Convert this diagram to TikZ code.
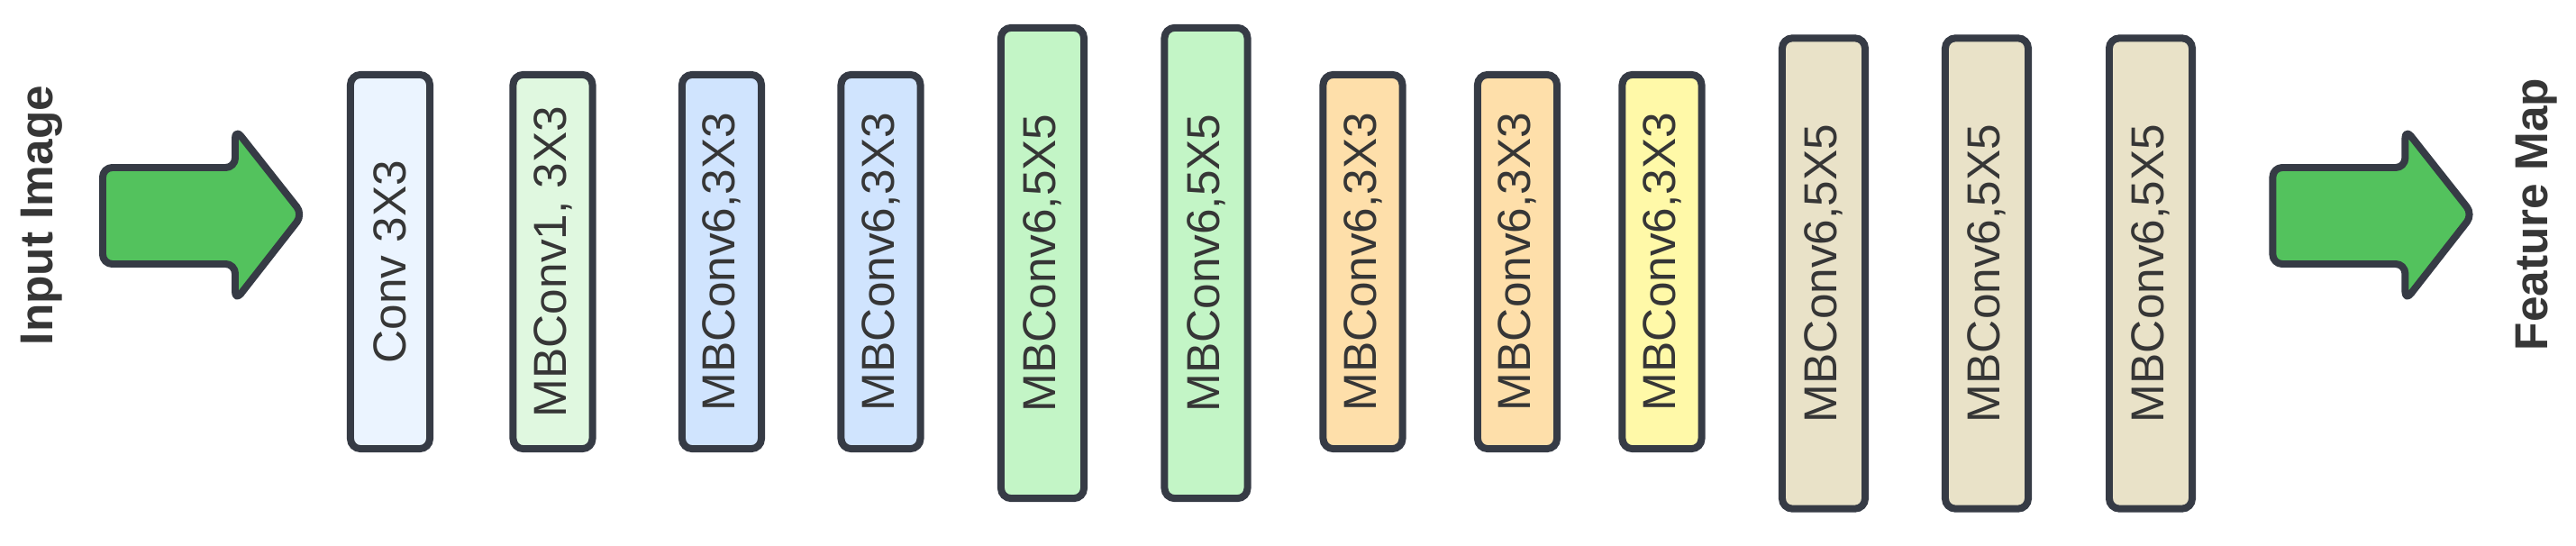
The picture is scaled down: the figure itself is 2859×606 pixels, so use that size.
\documentclass[tikz,border=0pt]{standalone}
\usepackage{fontspec}
\setmainfont{Liberation Sans}
\begin{document}
\begin{tikzpicture}[x=0.01cm,y=-0.01cm,
  line width=2.27pt,
  blk/.style={draw=bordc, rounded corners=3.2pt, inner sep=0pt, text=txtc,
    font=\fontsize{14.6}{17}\selectfont, minimum width=0.88cm},
  shortblk/.style={blk, minimum height=4.15cm},
  tallblk/.style={blk, minimum height=5.22cm, minimum width=0.92cm},
  lbl/.style={text=txtc, font=\fontsize{14.6}{17}\selectfont\bfseries, rotate=90, inner sep=0pt},
  bigarrow/.style={draw=bordc, fill=arrowc, rounded corners=3pt, line join=round}
]
\definecolor{bordc}{HTML}{363B45}
\definecolor{txtc}{HTML}{363636}
\definecolor{arrowc}{HTML}{53C25D}
\definecolor{cconv}{HTML}{EBF4FF}
\definecolor{cmb1}{HTML}{E0F8E0}
\definecolor{cblue}{HTML}{D0E4FE}
\definecolor{cgreen}{HTML}{C3F5C6}
\definecolor{corange}{HTML}{FEDFAA}
\definecolor{cyellow}{HTML}{FFF9A8}
\definecolor{ctan}{HTML}{E9E2C8}
\useasboundingbox (0,0) rectangle (2859,606);

\node[lbl] (inlbl) at (46,239) {Input Image};
\node[lbl] (outlbl) at (2815,238) {Feature Map};

\draw[bigarrow] (114,186) -- (261,186) -- (261,143) -- (336,238) -- (261,334) -- (261,293) -- (114,293) -- cycle;
\draw[bigarrow,xshift=24.07cm] (114,186) -- (261,186) -- (261,143) -- (336,238) -- (261,334) -- (261,293) -- (114,293) -- cycle;

\node[shortblk, fill=cconv] (b1) at (433,290.5) {\rotatebox{90}{Conv 3X3}};
\node[shortblk, fill=cmb1] (b2) at (613.5,290.5) {\rotatebox{90}{MBConv1, 3X3}};
\node[shortblk, fill=cblue] (b3) at (801,290.5) {\rotatebox{90}{MBConv6,3X3}};
\node[shortblk, fill=cblue] (b4) at (977.5,290.5) {\rotatebox{90}{MBConv6,3X3}};
\node[tallblk, fill=cgreen] (b5) at (1157,292) {\rotatebox{90}{MBConv6,5X5}};
\node[tallblk, fill=cgreen] (b6) at (1338.5,292) {\rotatebox{90}{MBConv6,5X5}};
\node[shortblk, fill=corange] (b7) at (1512.5,290.5) {\rotatebox{90}{MBConv6,3X3}};
\node[shortblk, fill=corange] (b8) at (1684,290.5) {\rotatebox{90}{MBConv6,3X3}};
\node[shortblk, fill=cyellow] (b9) at (1844.5,290.5) {\rotatebox{90}{MBConv6,3X3}};
\node[tallblk, fill=ctan] (b10) at (2024,303.5) {\rotatebox{90}{MBConv6,5X5}};
\node[tallblk, fill=ctan] (b11) at (2205,303.5) {\rotatebox{90}{MBConv6,5X5}};
\node[tallblk, fill=ctan] (b12) at (2387,303.5) {\rotatebox{90}{MBConv6,5X5}};
\end{tikzpicture}
\end{document}
